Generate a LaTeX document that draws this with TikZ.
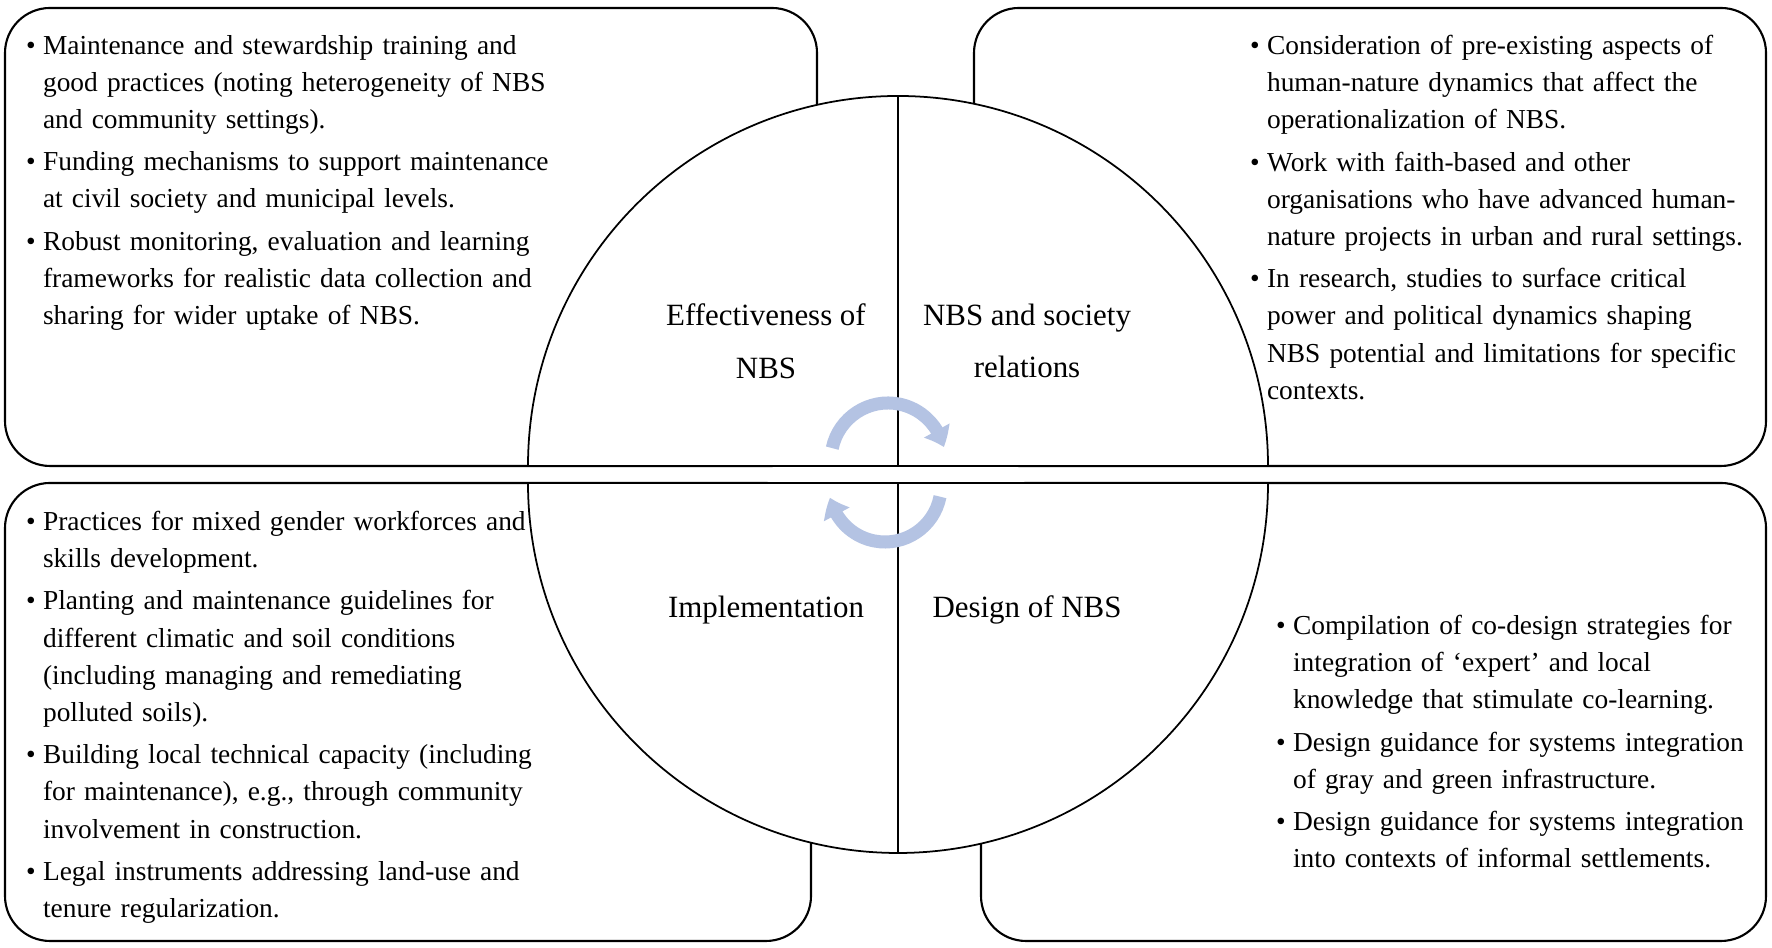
\documentclass[tikz,border=0pt]{standalone}
\usepackage{fontspec}
\setmainfont{Liberation Serif}
\usetikzlibrary{arrows.meta, bending}
\definecolor{cblue}{HTML}{B4C3E3}
\newcommand{\pitem}{\ifvmode\noindent\fi\hangindent=0.17cm\hangafter=1\makebox[0.17cm][l]{\textbullet}}
\newcommand{\nl}{\hfil\break}
\tikzset{
  every picture/.style={line width=0.6pt},
  panel/.style={draw=black, rounded corners=0.45cm, minimum width=#1, minimum height=4.58cm, inner sep=0pt, outer sep=0pt},
  halfdisc/.style={draw=black, fill=white, line width=0.5pt},
  points/.style={anchor=north west, text width=5.4cm, align=left, inner sep=0pt,
    font=\fontsize{7.8}{10.6}\selectfont\setlength{\parskip}{1.4pt}},
  theme/.style={align=center, inner sep=0pt, font=\fontsize{8.8}{15}\selectfont},
  cyclearrow/.style={draw=cblue, line width=0.13cm, -{Triangle[width=0.28cm, length=0.18cm, bend]}},
}
\begin{document}
\begin{tikzpicture}
  \path[use as bounding box, fill=white] (0,0) rectangle (17.72,9.48);
  % four panels
  \node[panel=8.12cm] (effbox) at (4.11,7.11) {};
  \node[panel=7.92cm] (socbox) at (13.70,7.11) {};
  \node[panel=8.06cm] (impbox) at (4.08,2.36) {};
  \node[panel=7.85cm] (desbox) at (13.735,2.36) {};
  % split circle
  \coordinate (topc) at (8.98,4.82);
  \coordinate (botc) at (8.98,4.65);
  \draw[halfdisc] ([xshift=-3.7cm]topc) arc[start angle=180, end angle=0, radius=3.7] -- cycle;
  \draw[halfdisc] (topc) -- ++(0,3.7);
  \draw[halfdisc] ([xshift=-3.7cm]botc) arc[start angle=180, end angle=360, radius=3.7] -- cycle;
  \draw[halfdisc] (botc) -- ++(0,-3.7);
  % cycle arrows
  \coordinate (cwstart) at (8.3225,4.9985);
  \coordinate (ccwstart) at (9.40,4.513);
  \draw[cyclearrow] (cwstart) arc[start angle=168, end angle=13, radius=0.57];
  \draw[cyclearrow] (ccwstart) arc[start angle=-11, end angle=-168, radius=0.56];
  % quadrant labels
  \node[theme] (efflabel) at (7.66,6.07) {Effectiveness of\\NBS};
  \node[theme] (soclabel) at (10.27,6.07) {NBS and society\\relations};
  \node[theme] (implabel) at (7.66,3.38) {Implementation};
  \node[theme] (deslabel) at (10.27,3.38) {Design of NBS};
  % panel texts
  \node[points] (efftext) at (0.25,9.14) {\pitem Maintenance and stewardship training and\nl good practices (noting heterogeneity of NBS\nl and community settings).\par
    \pitem Funding mechanisms to support maintenance\nl at civil society and municipal levels.\par
    \pitem Robust monitoring, evaluation and learning\nl frameworks for realistic data collection and\nl sharing for wider uptake of NBS.\par};
  \node[points] (soctext) at (12.49,9.14) {\pitem Consideration of pre-existing aspects of\nl human-nature dynamics that affect the\nl operationalization of NBS.\par
    \pitem Work with faith-based and other\nl organisations who have advanced human-\nl nature projects in urban and rural settings.\par
    \pitem In research, studies to surface critical\nl power and political dynamics shaping\nl NBS potential and limitations for specific\nl contexts.\par};
  \node[points] (imptext) at (0.25,4.38) {\pitem Practices for mixed gender workforces and\nl skills development.\par
    \pitem Planting and maintenance guidelines for\nl different climatic and soil conditions\nl (including managing and remediating\nl polluted soils).\par
    \pitem Building local technical capacity (including\nl for maintenance), e.g., through community\nl involvement in construction.\par
    \pitem Legal instruments addressing land-use and\nl tenure regularization.\par};
  \node[points] (destext) at (12.75,3.34) {\pitem Compilation of co-design strategies for\nl integration of ‘expert’ and local\nl knowledge that stimulate co-learning.\par
    \pitem Design guidance for systems integration\nl of gray and green infrastructure.\par
    \pitem Design guidance for systems integration\nl into contexts of informal settlements.\par};
\end{tikzpicture}
\end{document}
